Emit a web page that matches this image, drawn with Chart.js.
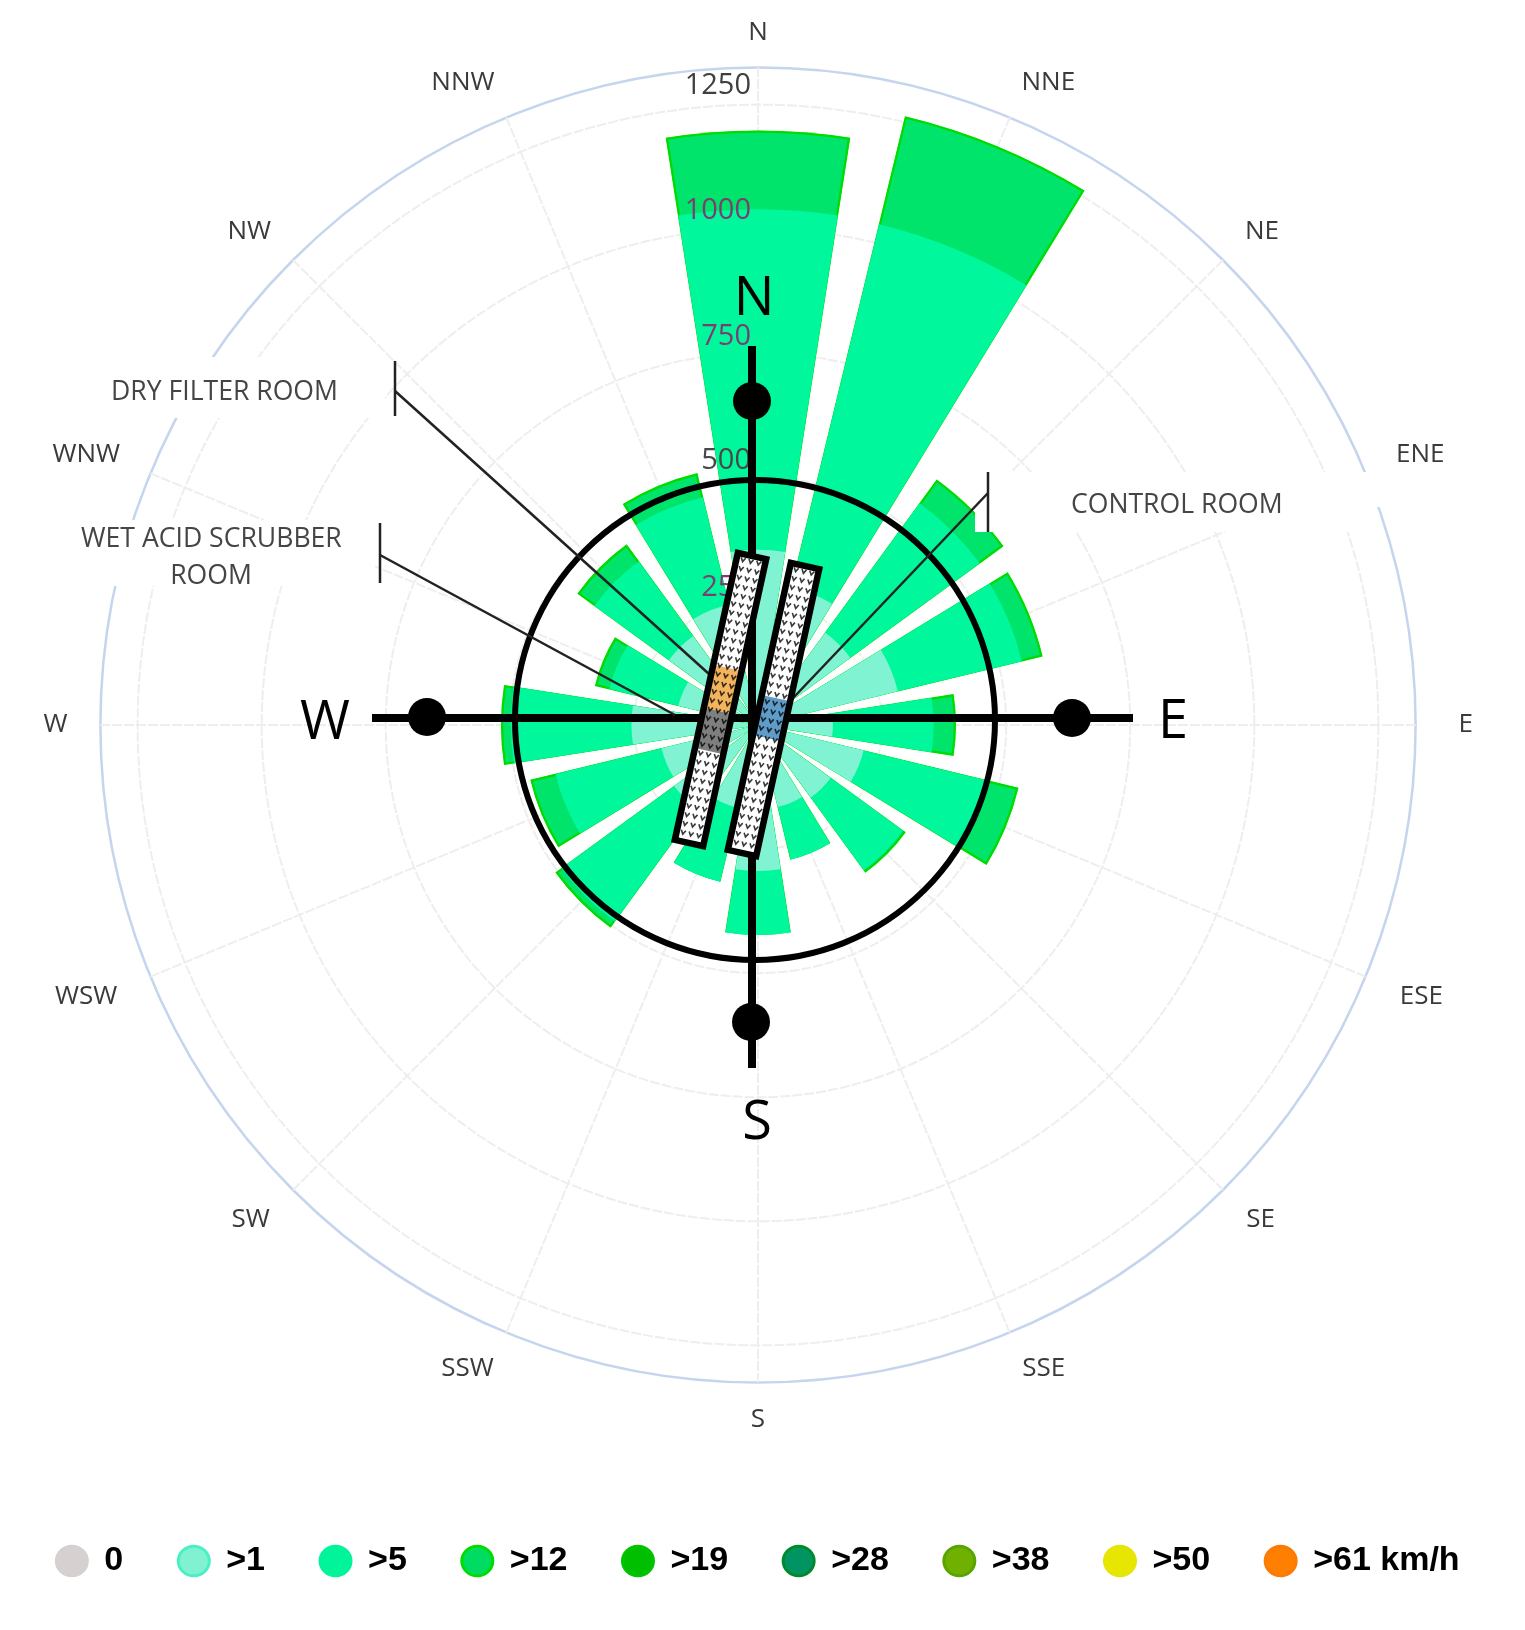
<!DOCTYPE html>
<html>
<head>
<meta charset="utf-8">
<title>Wind rose</title>
<script src="https://cdn.jsdelivr.net/npm/chart.js@4"></script>
<style>
  html, body { margin: 0; padding: 0; background: #fff; }
  canvas { display: block; filter: blur(0.6px); }
</style>
</head>
<body>
<canvas id="rose" width="1525" height="1630"></canvas>
<script>
const directions = ['N','NNE','NE','ENE','E','ESE','SE','SSE','S','SSW','SW','WSW','W','WNW','NW','NNW'];

const reachOver1  = [353, 286, 230, 290, 151, 219, 181, 170, 294, 172, 209, 200, 255, 165, 222, 250];
const reachOver5  = [1039, 1038, 553, 547, 354, 477, 362, 279, 423, 325, 490, 420, 498, 308, 408, 472];
const reachOver12 = [1198, 1262, 612, 590, 399, 540, 368, 279, 423, 325, 505, 472, 518, 338, 450, 522];

const tickValues = [250, 500, 750, 1000, 1250];
const tickColors = ['#7a3f72', '#4a474a', '#7a3f72', '#7a3f72', '#3f3f3f'];
const tickLifts = [13, 16, 16, 18, 19];

const legendTexts = ['0', '>1', '>5', '>12', '>19', '>28', '>38', '>50', '>61 km/h'];
const legendFills = ['#d6d0d0', '#80f2d2', '#00f59a', '#00dc62', '#00bf00', '#009462', '#70b000', '#e6e600', '#ff8000'];
const legendEdges = ['#d6d0d0', '#48f0c4', '#00f59a', '#00dc00', '#00c400', '#008a2e', '#5aa400', '#e6e600', '#ff7a00'];

const BAR_DEGREES = 17.8;
// the compass labels do not hug the outer ring evenly in the source
const labelGaps = [29, 31, 31, 33, 43, 37, 33, 33, 31, 33, 33, 36, 33, 33, 31, 31];

// polar area with the sectors narrower than their slot and centred on the direction
class WindRoseController extends Chart.PolarAreaController {
  updateElement(arc, index, props, mode) {
    const mid = this._cachedMeta.rScale.getIndexAngle(index) - Math.PI / 2;
    const half = BAR_DEGREES / 2 * Math.PI / 180;
    props.startAngle = mid - half;
    props.endAngle = mid + half;
    super.updateElement(arc, index, props, mode);
  }
}
WindRoseController.id = 'windRose';
Chart.register(WindRoseController);

function line(ctx, x1, y1, x2, y2) {
  ctx.beginPath();
  ctx.moveTo(x1, y1);
  ctx.lineTo(x2, y2);
  ctx.stroke();
}

function dot(ctx, x, y, r) {
  ctx.beginPath();
  ctx.arc(x, y, r, 0, Math.PI * 2);
  ctx.fill();
}

function building(ctx, x1, y1, x2, y2, zones) {
  const len = Math.hypot(x2 - x1, y2 - y1);
  const w = 29;
  ctx.save();
  ctx.translate(x1, y1);
  ctx.rotate(Math.atan2(y2 - y1, x2 - x1));
  ctx.fillStyle = '#fff';
  ctx.fillRect(0, -w / 2, len, w);
  // gravel hatch
  ctx.strokeStyle = '#3a3a3a';
  ctx.lineWidth = 1.6;
  for (let a = 6; a < len - 3; a += 9) {
    for (let c = -8; c <= 8; c += 8) {
      ctx.beginPath();
      ctx.moveTo(a - 2.5, c - 2.3);
      ctx.lineTo(a + 1.5, c);
      ctx.lineTo(a - 2.5, c + 2.3);
      ctx.stroke();
    }
  }
  ctx.globalCompositeOperation = 'multiply';
  zones.forEach(z => {
    ctx.fillStyle = z[2];
    ctx.fillRect(len * z[0], -w / 2, len * (z[1] - z[0]), w);
  });
  ctx.globalCompositeOperation = 'source-over';
  ctx.strokeStyle = '#000';
  ctx.lineWidth = 6.5;
  ctx.strokeRect(0, -w / 2, len, w);
  ctx.restore();
}

const siteOverlay = {
  id: 'siteOverlay',
  afterDatasetsDraw(chart) {
    const ctx = chart.ctx;
    const r = chart.scales.r;
    ctx.save();

    // white boxes behind the callouts, they hide grid and bar tips in the source too
    ctx.fillStyle = '#fff';
    ctx.fillRect(100, 357, 285, 61);
    ctx.fillRect(75, 520, 300, 66);
    ctx.fillRect(975, 472, 385, 60);
    ctx.fillRect(1360, 472, 30, 35);

    // radial value labels sit just above their ring, left of the axis
    ctx.font = '29px "Open Sans"';
    ctx.textAlign = 'right';
    ctx.textBaseline = 'middle';
    tickValues.forEach((v, i) => {
      ctx.fillStyle = tickColors[i];
      ctx.fillText(String(v), r.xCenter - 7, r.yCenter - r.getDistanceFromCenterForValue(v) - tickLifts[i]);
    });

    // compass
    ctx.strokeStyle = '#000';
    ctx.fillStyle = '#000';
    ctx.lineWidth = 6;
    ctx.beginPath();
    ctx.arc(755, 720, 240, 0, Math.PI * 2);
    ctx.stroke();
    ctx.lineWidth = 8;
    line(ctx, 372, 718, 1133, 718);
    line(ctx, 752, 346, 752, 1068);
    dot(ctx, 752, 401, 19);
    dot(ctx, 1072, 718, 19);
    dot(ctx, 427, 717, 19);
    dot(ctx, 751, 1022, 19);

    ctx.font = '54px "Open Sans"';
    ctx.textAlign = 'center';
    ctx.fillText('N', 754, 300);
    ctx.fillText('W', 325, 724);
    ctx.fillText('E', 1173, 723);
    ctx.fillText('S', 757, 1124);

    // leaders
    ctx.strokeStyle = '#222';
    ctx.lineWidth = 2.5;
    line(ctx, 395, 361, 395, 416);
    line(ctx, 395, 391, 709, 674);
    line(ctx, 380, 523, 380, 583);
    line(ctx, 380, 555, 675, 715);
    line(ctx, 988, 472, 988, 532);
    line(ctx, 988, 493, 776, 716);

    building(ctx, 752, 556, 689, 843, [[0.39, 0.54, '#f2b45c'], [0.54, 0.68, '#7f7f7f']]);
    building(ctx, 805, 566, 742, 853, [[0.46, 0.6, '#5f9cc8']]);

    ctx.font = '26.6px "Open Sans"';
    ctx.fillStyle = '#454545';
    ctx.textAlign = 'left';
    ctx.fillText('DRY FILTER ROOM', 111, 392);
    ctx.fillText('WET ACID SCRUBBER', 81, 539);
    ctx.textAlign = 'center';
    ctx.fillText('ROOM', 211, 576);
    ctx.textAlign = 'left';
    ctx.fillText('CONTROL ROOM', 1071, 505);
    ctx.restore();
  }
};

new Chart(document.getElementById('rose'), {
  type: 'windRose',
  data: {
    labels: directions,
    datasets: [
      { label: '>1', data: reachOver1, backgroundColor: '#80f4d2', borderWidth: 0 },
      { label: '>5', data: reachOver5, backgroundColor: '#00f79c', borderWidth: 0 },
      { label: '>12', data: reachOver12, backgroundColor: '#00e46c', borderColor: '#00dc00', borderWidth: 2, borderAlign: 'inner' }
    ]
  },
  options: {
    responsive: false,
    animation: false,
    events: [],
    layout: { padding: { top: 27, left: 0, right: 9, bottom: 42 } },
    scales: {
      r: {
        min: 0,
        max: 1325,
        startAngle: 0,
        ticks: { display: false, stepSize: 250 },
        grid: {
          circular: true,
          color: c => (c.tick && c.tick.value === 1325 ? '#c6d5ee' : '#eeeeee'),
          lineWidth: c => (c.tick && c.tick.value === 1325 ? 2.5 : 2)
        },
        border: { dash: c => (c.tick && c.tick.value === 1325 ? [] : [10, 2]) },
        angleLines: { display: true, color: '#eeeeee', lineWidth: 2, borderDash: [10, 2] },
        pointLabels: {
          display: true,
          centerPointLabels: false,
          padding: c => labelGaps[c.index],
          color: '#3a3a3a',
          // tight line height keeps the labels close to their anchor on the ring
          font: { family: 'Open Sans', size: 26, lineHeight: 12 / 26 }
        }
      }
    },
    plugins: {
      tooltip: { enabled: false },
      // blank spacer that holds the rose up off the legend
      title: { display: true, text: ' ', position: 'bottom', weight: 500, padding: 24, font: { size: 12 } },
      legend: {
        position: 'bottom',
        labels: {
          usePointStyle: true,
          pointStyle: 'circle',
          pointStyleWidth: 31,
          boxHeight: 21,
          padding: 55,
          color: '#222',
          font: { family: 'Liberation Sans', size: 34, weight: 'bold', lineHeight: 1 },
          generateLabels: () => legendTexts.map((t, i) => ({
            text: t,
            fillStyle: legendFills[i],
            strokeStyle: legendEdges[i],
            lineWidth: 3,
            pointStyle: 'circle',
            hidden: false,
            index: i
          }))
        }
      }
    }
  },
  plugins: [siteOverlay]
});
</script>
</body>
</html>
